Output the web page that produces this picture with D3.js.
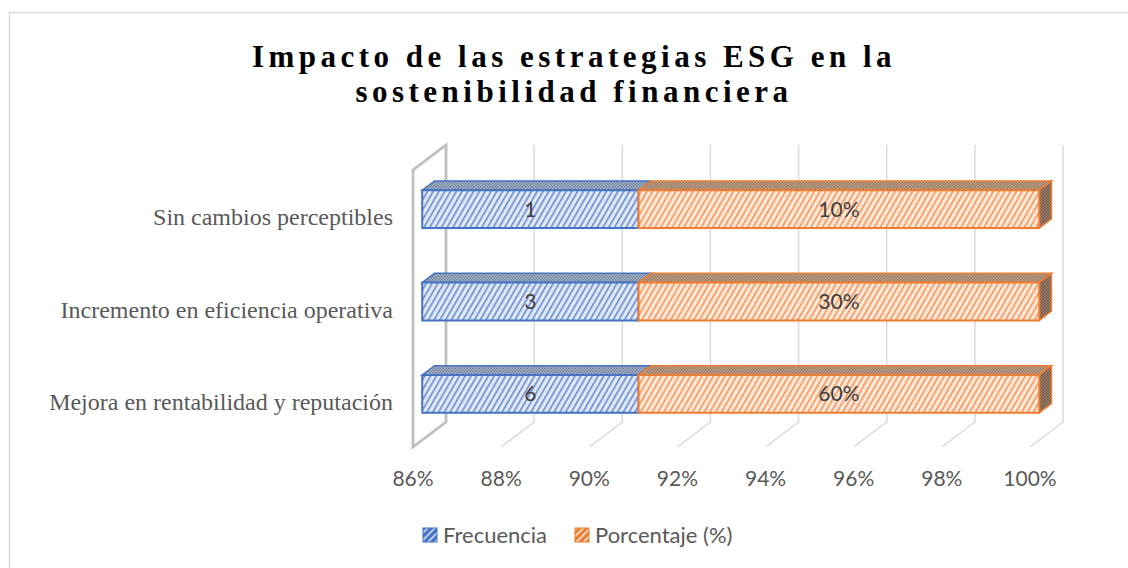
<!DOCTYPE html>
<html lang="es">
<head>
<meta charset="UTF-8">
<title>Impacto de las estrategias ESG</title>
<script src="https://cdn.jsdelivr.net/npm/d3@7"></script>
<style>
  body { margin: 0; background: #fff; }
</style>
</head>
<body>
<div id="container"></div>
<script>
// datos (orden de arriba hacia abajo)
const categories = ["Sin cambios perceptibles", "Incremento en eficiencia operativa", "Mejora en rentabilidad y reputación"];
const frecuencia = [1, 3, 6];
const porcentaje = [0.10, 0.30, 0.60];
const seriesNames = ["Frecuencia", "Porcentaje (%)"];
const xTicks = [0.86, 0.88, 0.90, 0.92, 0.94, 0.96, 0.98, 1.00];

const width = 1128, height = 568;
const blue = "#4472C4", orange = "#ED7D31";

// profundidad oblicua del grafico 3D
const depth = [33, -25];
const zFront = 0.28, zBack = 0.65;

const x = d3.scaleLinear().domain([0.86, 1]).range([413, 1030]);
const y = d3.scaleBand().domain(categories).range([170, 447])
    .paddingInner(0.59).paddingOuter(0.295);

const P = (xv, yp, z) => [x(xv) + depth[0] * z, yp + depth[1] * z];

const rows = categories.map((c, i) => ({cat: c, f: frecuencia[i], p: porcentaje[i]}));
const stack = d3.stack().keys(["f", "p"]).offset(d3.stackOffsetExpand);
const series = stack(rows);
const labels = [frecuencia.map(String), porcentaje.map(v => Math.round(v * 100) + "%")];

const svg = d3.select("#container").append("svg")
    .attr("width", width).attr("height", height);

const defs = svg.append("defs");
function stripes(id, bg, fg, sw, gap, angle) {
  const p = defs.append("pattern").attr("id", id).attr("patternUnits", "userSpaceOnUse")
      .attr("width", gap).attr("height", gap).attr("patternTransform", `rotate(${angle})`);
  p.append("rect").attr("width", gap).attr("height", gap).attr("fill", bg);
  p.append("rect").attr("width", sw).attr("height", gap).attr("fill", fg);
}
function dots(id, bg, fg) {
  const p = defs.append("pattern").attr("id", id).attr("patternUnits", "userSpaceOnUse")
      .attr("width", 3).attr("height", 3);
  p.append("rect").attr("width", 3).attr("height", 3).attr("fill", bg);
  p.append("rect").attr("width", 1.5).attr("height", 1.5).attr("fill", fg);
  p.append("rect").attr("x", 1.5).attr("y", 1.5).attr("width", 1.5).attr("height", 1.5).attr("fill", fg);
}
stripes("frontBlue", "#e3eaf7", "#6d8fd2", 1.7, 5, 30);
stripes("frontOrange", "#fde8da", "#f29a60", 1.7, 5, 30);
dots("topBlue", "#b0b9c8", "#6b7d9e");
dots("topOrange", "#c6a890", "#94735c");
dots("sideOrange", "#a48771", "#6c5244");
stripes("legBlue", blue, "#dfe7f5", 1.6, 5, 45);
stripes("legOrange", orange, "#fde6d6", 1.6, 5, 45);
const fills = [
  {front: "url(#frontBlue)", top: "url(#topBlue)", side: "url(#topBlue)", stroke: blue, leg: "url(#legBlue)"},
  {front: "url(#frontOrange)", top: "url(#topOrange)", side: "url(#sideOrange)", stroke: orange, leg: "url(#legOrange)"}
];

// marco del grafico
svg.append("rect").attr("x", 9.5).attr("y", 12.5).attr("width", 1140).attr("height", 600)
    .attr("fill", "none").attr("stroke", "#d9d9d9").attr("stroke-width", 1.5);

// titulo
const title = svg.append("text").attr("text-anchor", "middle")
    .attr("font-family", "'Liberation Serif', 'Times New Roman', serif")
    .attr("font-weight", "bold").attr("font-size", 31).attr("letter-spacing", 4.5)
    .attr("fill", "#000");
title.append("tspan").attr("x", 574).attr("y", 67).text("Impacto de las estrategias ESG en la");
title.append("tspan").attr("x", 574).attr("y", 102).text("sostenibilidad financiera");

// cuadricula: pared del fondo y piso
const [yTop, yBot] = y.range();
const grid = svg.append("g").attr("stroke", "#d9d9d9").attr("stroke-width", 1.5).attr("fill", "none");
grid.selectAll("path").data(xTicks.slice(1)).join("path")
    .attr("d", t => d3.line()([P(t, yBot, 0), P(t, yBot, 1), P(t, yTop, 1)]));

// pared izquierda
svg.append("path")
    .attr("d", d3.line()([P(0.86, yBot, 0), P(0.86, yTop, 0), P(0.86, yTop, 1), P(0.86, yBot, 1)]) + "Z")
    .attr("fill", "none").attr("stroke", "#bfbfbf").attr("stroke-width", 2.8);

// barras 3D
const poly = pts => d3.line()(pts) + "Z";
const barG = svg.append("g");
series.forEach((s, si) => {
  const g = barG.append("g");
  s.forEach((d, ci) => {
    const x0 = Math.max(d[0], 0.86), x1 = Math.min(d[1], 1);
    const y0 = y(categories[ci]), y1 = y0 + y.bandwidth();
    g.append("path").attr("d", poly([P(x0, y0, zFront), P(x1, y0, zFront), P(x1, y0, zBack), P(x0, y0, zBack)]))
        .attr("fill", fills[si].top).attr("stroke", fills[si].stroke).attr("stroke-width", 1.5);
    if (si === series.length - 1) {
      g.append("path").attr("d", poly([P(x1, y0, zFront), P(x1, y0, zBack), P(x1, y1, zBack), P(x1, y1, zFront)]))
          .attr("fill", fills[si].side).attr("stroke", fills[si].stroke).attr("stroke-width", 1.5);
    }
    g.append("path").attr("d", poly([P(x0, y0, zFront), P(x1, y0, zFront), P(x1, y1, zFront), P(x0, y1, zFront)]))
        .attr("fill", fills[si].front).attr("stroke", fills[si].stroke).attr("stroke-width", 2);
    const c = P((x0 + x1) / 2, (y0 + y1) / 2, zFront);
    g.append("text").attr("x", c[0]).attr("y", c[1]).attr("dy", "0.36em")
        .attr("text-anchor", "middle").attr("font-family", "Lato, 'Open Sans', sans-serif")
        .attr("font-size", 21).attr("fill", "#404040").text(labels[si][ci]);
  });
});

// etiquetas de categoria
svg.append("g").attr("font-family", "'Liberation Serif', 'Times New Roman', serif")
    .attr("font-size", 24).attr("fill", "#595959").attr("text-anchor", "end")
  .selectAll("text").data(categories).join("text")
    .attr("x", 393).attr("y", d => y(d) + y.bandwidth() / 2 + 9).text(d => d);

// eje x
svg.append("g").attr("font-family", "Lato, 'Open Sans', sans-serif")
    .attr("font-size", 21).attr("fill", "#595959").attr("text-anchor", "middle")
  .selectAll("text").data(xTicks).join("text")
    .attr("x", d => x(d)).attr("y", 486).text(d3.format(".0%"));

// leyenda
const leg = svg.append("g").attr("font-family", "Lato, 'Open Sans', sans-serif")
    .attr("font-size", 22).attr("fill", "#595959");
const legX = [423, 575];
seriesNames.forEach((n, i) => {
  leg.append("rect").attr("x", legX[i]).attr("y", 528).attr("width", 14).attr("height", 14)
      .attr("fill", fills[i].leg).attr("stroke", fills[i].stroke).attr("stroke-width", 1);
  leg.append("text").attr("x", legX[i] + 20).attr("y", 543).text(n);
});
</script>
</body>
</html>
